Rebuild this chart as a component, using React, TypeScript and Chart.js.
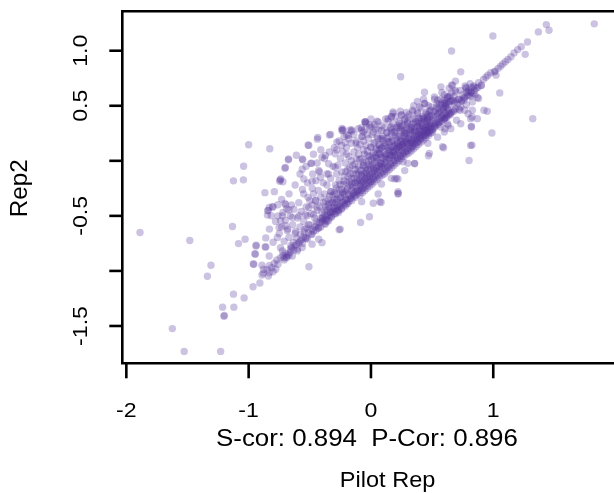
import { useEffect, useRef } from "react";
import { Chart, registerables } from "chart.js";

Chart.register(...registerables);

// ---- axis / text content ----
const xTickValues = [-2, -1, 0, 1];
const xTickLabels = ["-2", "-1", "0", "1"];
const yTickValues = [-1.5, -1, -0.5, 0, 0.5, 1];
const yTickLabels = ["-1.5", "", "-0.5", "", "0.5", "1.0"];
const xTitle = "Pilot Rep";
const yTitle = "Rep2";
const corrText = "S-cor: 0.894  P-Cor: 0.896";
const xRange = [-2.033, 1.957];
const yRange = [-1.839, 1.358];

// ---- data: [Pilot Rep, Rep2] ----
const leftTailPoints: [number, number][] = [
  [-1.888, -0.651], [-1.481, -0.724], [-1.624, -1.524], [-1.527, -1.731], [-1.229, -1.731],
  [-1.203, -1.412], [-1.198, -1.405], [-1.213, -1.329], [-1.121, -1.329], [-1.124, -1.211],
  [-1.037, -1.245], [-0.964, -1.144], [-0.908, -1.11], [-1.308, -0.949], [-1.337, -1.049],
  [-1.132, -0.597], [-1.083, -0.752], [-1.029, -0.712], [-0.938, -0.766], [-0.865, -0.782],
  [-0.948, -0.843], [-0.962, -0.937], [-0.891, -0.949], [-0.878, -0.985], [-0.891, -1.037],
  [-0.838, -1.047], [-0.8, -1.007], [-0.778, -0.985], [-1.0, 0.146], [-0.827, 0.109],
  [-1.041, -0.049], [-1.124, -0.182], [-1.043, -0.173], [-0.867, -0.289], [-0.958, -0.94],
  [-0.831, -1.016], [-0.946, -0.849], [-0.94, -0.773], [-0.859, -0.782], [-0.832, -0.864],
];

const upperLeftPoints: [number, number][] = [
  [-0.508, 0.14], [-0.438, 0.197], [-0.33, 0.24], [-0.232, 0.276], [-0.184, 0.231],
  [-0.157, 0.27], [-0.049, 0.352], [0.005, 0.307], [-0.279, 0.17], [-0.211, 0.167],
  [-0.122, 0.161], [-0.076, 0.222], [-0.676, 0.009], [-0.703, -0.067], [-0.557, 0.009],
  [-0.486, -0.022], [-0.562, -0.076], [-0.476, -0.119], [-0.427, -0.088], [-0.738, -0.164],
  [-0.746, -0.186], [-0.549, -0.164], [-0.481, -0.186], [-0.413, -0.149], [-0.4, 0.033],
  [-0.373, 0.048], [-0.292, 0.064], [-0.346, -0.027], [-0.292, -0.058], [-0.346, -0.119],
  [-0.044, 0.355], [-0.228, 0.286], [-0.171, 0.28], [-0.34, 0.234], [-0.435, 0.213],
  [-0.514, 0.144], [-0.673, 0.016], [-0.562, 0.016], [-0.492, -0.023], [-0.743, -0.174],
  [-0.157, 0.28], [-0.198, 0.234], [-0.238, 0.295], [-0.076, 0.28], [-0.008, 0.325],
  [0.167, 0.401], [0.181, 0.431], [0.343, 0.446], [0.275, 0.371], [0.235, 0.341],
];

const lowerLeftPoints: [number, number][] = [
  [-0.832, -0.423], [-0.805, -0.417], [-0.846, -0.493], [-0.697, -0.399], [-0.67, -0.447],
  [-0.724, -0.499], [-0.738, -0.545], [-0.643, -0.514], [-0.589, -0.499], [-0.535, -0.49],
  [-0.508, -0.423], [-0.441, -0.423], [-0.454, -0.362], [-0.514, -0.332], [-0.4, -0.529],
  [-0.319, -0.453], [-0.265, -0.469], [-0.251, -0.62], [-0.697, -0.59], [-0.684, -0.636],
  [-0.751, -0.606], [-0.67, -0.697], [-0.616, -0.642], [-0.765, -0.697], [-0.589, -0.743],
  [-0.535, -0.703], [-0.481, -0.666], [-0.427, -0.611], [-0.373, -0.575], [-0.346, -0.545],
  [-0.562, -0.788], [-0.656, -0.803], [-0.711, -0.88], [-0.724, -0.818], [-0.643, -0.864],
  [-0.602, -0.818], [-0.481, -0.757], [-0.427, -0.712], [-0.4, -0.743], [-0.844, -0.453],
  [-0.815, -0.499], [-0.761, -0.399], [-0.704, -0.387], [-0.688, -0.438], [-0.507, -0.962],
  [-0.26, -0.627], [-0.085, -0.56], [-0.012, -0.508], [0.083, -0.378], [0.223, -0.296],
  [0.019, -0.386], [0.073, -0.371], [-0.076, -0.371], [0.167, -0.159], [0.208, -0.159],
  [0.221, -0.28], [0.357, -0.023], [0.302, -0.023], [0.262, -0.008], [0.478, 0.068],
  [0.465, 0.159], [0.221, -0.164], [0.194, -0.164], [0.059, -0.301], [0.221, -0.301],
];

const bandNegPoints: [number, number][] = [
  [-0.88, -1.02], [-0.85, -0.99], [-0.83, -0.95], [-0.81, -0.97], [-0.79, -0.93], [-0.77, -0.9],
  [-0.76, -0.94], [-0.74, -0.88], [-0.72, -0.86], [-0.71, -0.9], [-0.7, -0.84], [-0.69, -0.87],
  [-0.68, -0.85], [-0.69, -0.88], [-0.67, -0.86], [-0.86, -0.7], [-0.83, -0.62], [-0.8, -0.74],
  [-0.78, -0.55], [-0.75, -0.66], [-0.73, -0.6], [-0.72, -0.47], [-0.71, -0.73], [-0.84, -0.45],
  [-0.8, -0.42], [-0.76, -0.5], [-0.74, -0.79], [-0.7, -0.54], [-0.73, -0.35], [-0.79, -0.28],
  [-0.72, -0.19], [-0.7, -0.06],
  [-0.66, -0.83], [-0.65, -0.79], [-0.63, -0.81], [-0.62, -0.77], [-0.61, -0.76], [-0.6, -0.8],
  [-0.58, -0.73], [-0.57, -0.72], [-0.56, -0.75], [-0.55, -0.69], [-0.53, -0.7], [-0.52, -0.71],
  [-0.51, -0.65], [-0.68, -0.62], [-0.66, -0.5], [-0.64, -0.58], [-0.63, -0.44], [-0.62, -0.66],
  [-0.6, -0.52], [-0.59, -0.38], [-0.58, -0.6], [-0.57, -0.46], [-0.55, -0.55], [-0.55, -0.3],
  [-0.54, -0.62], [-0.53, -0.42], [-0.52, -0.5], [-0.51, -0.58], [-0.5, -0.36], [-0.67, -0.3],
  [-0.62, -0.22], [-0.58, -0.12], [-0.53, -0.05], [-0.61, 0.05], [-0.52, -0.2], [-0.65, -0.4],
  [-0.56, -0.26],
  [-0.49, -0.67], [-0.48, -0.62], [-0.47, -0.64], [-0.46, -0.6], [-0.45, -0.63], [-0.44, -0.58],
  [-0.43, -0.61], [-0.42, -0.56], [-0.41, -0.6], [-0.4, -0.55], [-0.39, -0.54], [-0.38, -0.57],
  [-0.37, -0.51], [-0.36, -0.55], [-0.35, -0.5], [-0.34, -0.52], [-0.33, -0.47], [-0.32, -0.5],
  [-0.31, -0.46], [-0.49, -0.48], [-0.48, -0.4], [-0.47, -0.3], [-0.46, -0.52], [-0.45, -0.36],
  [-0.44, -0.45], [-0.43, -0.27], [-0.42, -0.41], [-0.41, -0.33], [-0.4, -0.47], [-0.39, -0.38],
  [-0.38, -0.3], [-0.37, -0.42], [-0.36, -0.22], [-0.35, -0.35], [-0.34, -0.43], [-0.33, -0.28],
  [-0.32, -0.38], [-0.31, -0.31], [-0.3, -0.42], [-0.48, -0.25], [-0.45, -0.18], [-0.42, -0.1],
  [-0.39, -0.2], [-0.36, -0.12], [-0.33, -0.16], [-0.31, -0.05], [-0.44, -0.02], [-0.38, 0.02],
  [-0.34, 0.08], [-0.47, 0.06], [-0.3, 0.12], [-0.41, 0.1],
  [-0.3, -0.48], [-0.29, -0.44], [-0.28, -0.46], [-0.27, -0.42], [-0.26, -0.45], [-0.25, -0.41],
  [-0.24, -0.43], [-0.23, -0.38], [-0.22, -0.4], [-0.21, -0.36], [-0.2, -0.39], [-0.19, -0.35],
  [-0.18, -0.37], [-0.17, -0.32], [-0.16, -0.34], [-0.15, -0.3], [-0.14, -0.32], [-0.13, -0.28],
  [-0.12, -0.31], [-0.11, -0.27], [-0.29, -0.38], [-0.27, -0.35], [-0.25, -0.33], [-0.23, -0.3],
  [-0.21, -0.28], [-0.19, -0.25], [-0.17, -0.22], [-0.15, -0.24], [-0.13, -0.2], [-0.11, -0.18],
  [-0.28, -0.3], [-0.24, -0.26], [-0.2, -0.2], [-0.16, -0.16], [-0.12, -0.12], [-0.29, -0.22],
  [-0.28, -0.12], [-0.27, -0.04], [-0.26, -0.18], [-0.25, 0.02], [-0.24, -0.1], [-0.23, 0.08],
  [-0.22, -0.14], [-0.21, -0.02], [-0.2, 0.12], [-0.19, -0.08], [-0.18, 0.04], [-0.17, -0.12],
  [-0.16, 0.16], [-0.15, -0.04], [-0.14, 0.08], [-0.13, -0.08], [-0.12, 0.02], [-0.11, 0.12],
  [-0.1, -0.05], [-0.26, 0.18], [-0.22, 0.22], [-0.18, 0.2], [-0.14, 0.24], [-0.12, 0.18],
  [-0.28, 0.1], [-0.2, 0.06], [-0.16, 0.0], [-0.24, 0.14],
];

const bandCorePoints: [number, number][] = [
  [-0.1, -0.29], [-0.09, -0.31], [-0.08, -0.27], [-0.07, -0.29], [-0.06, -0.25], [-0.05, -0.27],
  [-0.04, -0.23], [-0.03, -0.25], [-0.02, -0.21], [-0.01, -0.23], [0.0, -0.19], [0.01, -0.21],
  [0.02, -0.17], [0.03, -0.19], [0.04, -0.15], [0.05, -0.17], [0.06, -0.13], [0.07, -0.15],
  [0.08, -0.11], [0.09, -0.13], [-0.09, -0.22], [-0.07, -0.19], [-0.05, -0.17], [-0.03, -0.15],
  [-0.01, -0.13], [0.01, -0.11], [0.03, -0.09], [0.05, -0.07], [0.07, -0.05], [0.09, -0.03],
  [-0.08, -0.13], [-0.04, -0.09], [0.0, -0.05], [0.04, -0.01], [0.08, 0.03], [-0.06, -0.04],
  [-0.02, 0.0], [0.02, 0.03], [0.06, 0.07], [-0.1, 0.06], [-0.09, 0.15], [-0.08, 0.02],
  [-0.07, 0.22], [-0.06, 0.1], [-0.05, 0.28], [-0.04, 0.14], [-0.03, 0.05], [-0.02, 0.2],
  [-0.01, 0.3], [0.0, 0.12], [0.01, 0.24], [0.02, 0.16], [0.03, 0.33], [0.04, 0.1],
  [0.05, 0.22], [0.06, 0.28], [0.07, 0.14], [0.08, 0.2], [0.09, 0.32], [-0.08, 0.3],
  [-0.04, 0.34], [0.0, 0.38], [0.05, 0.36], [-0.06, 0.18], [0.02, 0.26], [0.07, 0.06],
  [-0.03, 0.24], [0.04, 0.29], [0.09, 0.12],
  [0.1, -0.1], [0.11, -0.12], [0.12, -0.08], [0.13, -0.1], [0.14, -0.06], [0.15, -0.08],
  [0.16, -0.04], [0.17, -0.06], [0.18, -0.02], [0.19, -0.04], [0.2, 0.0], [0.21, -0.02],
  [0.22, 0.02], [0.23, 0.0], [0.24, 0.04], [0.25, 0.02], [0.26, 0.06], [0.27, 0.04],
  [0.28, 0.08], [0.29, 0.06], [0.11, -0.02], [0.13, 0.01], [0.15, 0.03], [0.17, 0.05],
  [0.19, 0.08], [0.21, 0.1], [0.23, 0.12], [0.25, 0.14], [0.27, 0.16], [0.29, 0.18],
  [0.12, 0.06], [0.16, 0.1], [0.2, 0.14], [0.24, 0.18], [0.28, 0.22], [0.1, 0.2],
  [0.11, 0.3], [0.12, 0.16], [0.13, 0.26], [0.14, 0.36], [0.15, 0.22], [0.16, 0.3],
  [0.17, 0.18], [0.18, 0.34], [0.19, 0.26], [0.2, 0.4], [0.21, 0.3], [0.22, 0.22],
  [0.23, 0.36], [0.24, 0.28], [0.25, 0.42], [0.26, 0.32], [0.27, 0.26], [0.28, 0.38],
  [0.29, 0.3], [0.14, 0.12], [0.18, 0.08], [0.22, 0.13], [0.26, 0.16], [0.12, 0.38],
  [0.17, 0.4], [0.24, 0.45], [0.29, 0.44],
];

const coreDensePoints: [number, number][] = [
  [-0.395, -0.512], [-0.382, -0.447], [-0.371, -0.368], [-0.366, -0.535], [-0.354, -0.489],
  [-0.348, -0.402], [-0.337, -0.318], [-0.331, -0.466], [-0.322, -0.511], [-0.314, -0.377],
  [-0.306, -0.433], [-0.297, -0.289], [-0.291, -0.482], [-0.283, -0.351], [-0.276, -0.412],
  [-0.268, -0.447], [-0.261, -0.266], [-0.254, -0.392], [-0.247, -0.331], [-0.239, -0.438],
  [-0.232, -0.372], [-0.226, -0.215], [-0.218, -0.307], [-0.211, -0.412], [-0.204, -0.351],
  [-0.197, -0.262], [-0.189, -0.389], [-0.183, -0.305], [-0.176, -0.187], [-0.169, -0.342],
  [-0.162, -0.271], [-0.155, -0.361], [-0.148, -0.224], [-0.141, -0.297], [-0.134, -0.158],
  [-0.127, -0.332], [-0.121, -0.243], [-0.114, -0.281], [-0.107, -0.196], [-0.101, -0.117],
  [-0.096, -0.263], [-0.091, -0.175], [-0.087, -0.232], [-0.082, -0.087], [-0.078, -0.201],
  [-0.073, -0.146], [-0.069, -0.248], [-0.064, -0.041], [-0.059, -0.183], [-0.055, -0.112],
  [-0.051, -0.215], [-0.046, -0.066], [-0.042, -0.157], [-0.037, -0.009], [-0.033, -0.194],
  [-0.029, -0.123], [-0.024, -0.078], [-0.019, -0.171], [-0.015, 0.038], [-0.011, -0.142],
  [-0.006, -0.062], [-0.002, -0.188], [0.003, 0.011], [0.007, -0.119], [0.012, -0.035],
  [0.016, -0.154], [0.021, 0.072], [0.025, -0.092], [0.029, -0.014], [0.034, -0.131],
  [0.038, 0.045], [0.043, -0.066], [0.047, 0.108], [0.052, -0.103], [0.056, 0.009],
  [0.061, -0.047], [0.065, 0.151], [0.069, -0.082], [0.074, 0.063], [0.078, -0.018],
  [0.083, 0.118], [0.087, -0.059], [0.092, 0.027], [0.096, 0.186],
  [0.101, -0.041], [0.106, 0.082], [0.111, -0.073], [0.115, 0.024], [0.12, 0.139],
  [0.124, -0.012], [0.129, 0.061], [0.133, 0.203], [0.138, -0.048], [0.142, 0.097],
  [0.147, 0.016], [0.151, 0.168], [0.156, 0.052], [0.16, -0.021], [0.165, 0.121],
  [0.169, 0.248], [0.174, 0.034], [0.178, 0.182], [0.183, 0.077], [0.187, 0.006],
  [0.192, 0.139], [0.196, 0.264], [0.201, 0.054], [0.205, 0.199], [0.21, 0.109],
  [0.214, 0.027], [0.219, 0.161], [0.223, 0.298], [0.228, 0.072], [0.232, 0.218],
  [0.237, 0.131], [0.241, 0.049], [0.246, 0.177], [0.25, 0.096], [0.255, 0.271],
  [0.259, 0.146], [0.264, 0.068], [0.268, 0.224], [0.273, 0.119], [0.277, 0.327],
  [0.282, 0.188], [0.286, 0.092], [0.291, 0.251], [0.295, 0.153],
  [0.302, 0.114], [0.307, 0.208], [0.311, 0.284], [0.316, 0.137], [0.321, 0.239],
  [0.325, 0.172], [0.33, 0.331], [0.334, 0.126], [0.339, 0.262], [0.343, 0.197],
  [0.348, 0.158], [0.352, 0.297], [0.357, 0.229], [0.361, 0.181], [0.366, 0.352],
  [0.37, 0.264], [0.375, 0.207], [0.379, 0.168], [0.384, 0.311], [0.388, 0.243],
  [0.393, 0.386], [0.397, 0.219], [0.402, 0.287], [0.406, 0.203], [0.411, 0.341],
  [0.415, 0.262], [0.42, 0.231], [0.424, 0.402], [0.429, 0.306], [0.433, 0.249],
  [0.438, 0.368], [0.442, 0.281], [0.447, 0.232], [0.451, 0.427], [0.456, 0.327],
  [0.46, 0.268], [0.465, 0.384], [0.469, 0.302], [0.474, 0.256], [0.478, 0.451],
  [0.483, 0.348], [0.487, 0.291], [0.492, 0.412], [0.496, 0.317],
  [0.503, 0.287], [0.508, 0.372], [0.514, 0.449], [0.519, 0.312], [0.525, 0.398],
  [0.531, 0.338], [0.536, 0.487], [0.542, 0.361], [0.547, 0.421], [0.553, 0.347],
  [0.558, 0.512], [0.564, 0.384], [0.569, 0.446], [0.575, 0.368], [0.58, 0.531],
  [0.586, 0.412], [0.591, 0.469], [0.597, 0.392], [0.602, 0.553], [0.608, 0.437],
  [0.613, 0.489], [0.619, 0.413], [0.624, 0.571], [0.63, 0.458], [0.635, 0.512],
  [0.641, 0.434], [0.646, 0.589],
];

const coreFillPoints: [number, number][] = [
  [-0.187, -0.142], [-0.173, -0.061], [-0.158, -0.203], [-0.144, -0.117], [-0.131, -0.029],
  [-0.118, -0.176], [-0.104, -0.081], [-0.093, 0.013], [-0.079, -0.128], [-0.066, -0.011],
  [-0.053, 0.061], [-0.041, -0.104], [-0.028, 0.089], [-0.016, -0.037], [-0.004, 0.127],
  [0.009, 0.049], [0.018, -0.072], [0.031, 0.167], [0.044, 0.031], [0.057, 0.203],
  [0.068, 0.098], [0.081, -0.027], [0.094, 0.224], [0.107, 0.131], [0.118, 0.042],
  [0.131, 0.254], [0.143, 0.173], [0.154, 0.088], [0.167, 0.281], [0.179, 0.129],
  [0.191, 0.046], [0.203, 0.232], [0.216, 0.158], [0.227, 0.094], [0.239, 0.309],
  [0.252, 0.204], [0.263, 0.126], [0.276, 0.247], [0.288, 0.169], [0.299, 0.356],
  [0.312, 0.198], [0.323, 0.274], [0.336, 0.163], [0.347, 0.341], [0.359, 0.268],
  [0.371, 0.198], [0.383, 0.357], [0.396, 0.271], [0.408, 0.229], [0.419, 0.318],
  [0.432, 0.387], [0.444, 0.298], [0.457, 0.254], [0.468, 0.421], [0.481, 0.311],
  [-0.232, -0.286], [-0.219, -0.183], [-0.206, -0.097], [-0.253, -0.214], [-0.281, -0.246],
  [-0.302, -0.351], [-0.326, -0.279], [-0.341, -0.384], [-0.359, -0.446], [-0.377, -0.492],
  [-0.412, -0.524], [-0.446, -0.553], [-0.468, -0.488], [-0.497, -0.583], [-0.523, -0.611],
  [-0.545, -0.648], [-0.577, -0.668], [-0.608, -0.702], [-0.634, -0.741], [-0.656, -0.772],
];

const bandUpperPoints: [number, number][] = [
  [0.3, 0.09], [0.31, 0.07], [0.32, 0.11], [0.33, 0.09], [0.34, 0.13], [0.35, 0.11],
  [0.36, 0.15], [0.37, 0.13], [0.38, 0.17], [0.39, 0.15], [0.4, 0.19], [0.41, 0.17],
  [0.42, 0.21], [0.43, 0.19], [0.44, 0.23], [0.45, 0.21], [0.46, 0.25], [0.47, 0.23],
  [0.48, 0.27], [0.49, 0.25], [0.31, 0.16], [0.33, 0.18], [0.35, 0.2], [0.37, 0.22],
  [0.39, 0.24], [0.41, 0.26], [0.43, 0.28], [0.45, 0.3], [0.47, 0.32], [0.49, 0.34],
  [0.32, 0.24], [0.36, 0.28], [0.4, 0.32], [0.44, 0.36], [0.48, 0.4], [0.3, 0.34],
  [0.31, 0.42], [0.33, 0.3], [0.34, 0.46], [0.36, 0.38], [0.38, 0.44], [0.39, 0.34],
  [0.41, 0.48], [0.42, 0.38], [0.44, 0.52], [0.45, 0.44], [0.46, 0.36], [0.47, 0.5],
  [0.49, 0.46], [0.35, 0.5], [0.43, 0.56], [0.38, 0.54],
  [0.5, 0.28], [0.52, 0.3], [0.53, 0.32], [0.55, 0.33], [0.56, 0.35], [0.58, 0.36],
  [0.6, 0.38], [0.61, 0.39], [0.63, 0.41], [0.65, 0.42], [0.66, 0.44], [0.68, 0.45],
  [0.69, 0.47], [0.51, 0.4], [0.53, 0.46], [0.54, 0.52], [0.56, 0.44], [0.57, 0.56],
  [0.59, 0.48], [0.6, 0.6], [0.62, 0.52], [0.63, 0.58], [0.65, 0.54], [0.66, 0.62],
  [0.68, 0.58], [0.69, 0.64], [0.52, 0.56], [0.58, 0.62], [0.64, 0.66], [0.55, 0.48],
  [0.61, 0.5], [0.67, 0.55],
  [0.71, 0.52], [0.72, 0.56], [0.74, 0.54], [0.75, 0.6], [0.76, 0.57], [0.78, 0.62],
  [0.79, 0.59], [0.8, 0.64], [0.82, 0.62], [0.84, 0.68], [0.86, 0.66], [0.88, 0.71],
  [0.73, 0.64], [0.77, 0.68], [0.81, 0.7], [0.72, 0.47], [0.78, 0.51], [0.85, 0.6],
  [0.438, 0.623], [0.572, 0.672], [0.667, 0.687], [0.694, 0.626], [0.775, 0.666],
  [0.815, 0.626], [0.843, 0.672], [0.902, 0.687], [0.802, 0.596], [0.87, 0.575],
  [0.829, 0.535], [0.762, 0.55], [0.734, 0.489], [0.681, 0.52], [0.626, 0.58],
  [0.6, 0.52], [0.545, 0.55], [0.519, 0.58], [0.491, 0.489], [0.438, 0.52],
  [0.397, 0.489], [0.383, 0.429], [0.464, 0.398], [0.545, 0.429], [0.6, 0.383],
  [0.626, 0.337], [0.572, 0.307], [0.519, 0.337], [0.464, 0.368], [0.41, 0.383],
  [0.343, 0.383], [0.302, 0.398], [0.248, 0.413], [0.181, 0.443], [0.14, 0.383],
  [0.059, 0.352], [-0.049, 0.352], [-0.103, 0.292], [-0.238, 0.276], [-0.062, 0.261],
  [0.086, 0.276], [0.167, 0.307], [0.221, 0.322], [0.276, 0.276], [0.329, 0.307],
  [0.383, 0.322], [0.451, 0.276], [0.505, 0.261], [0.545, 0.215], [0.6, 0.261],
  [0.653, 0.292], [0.734, 0.337], [0.815, 0.383], [0.829, 0.459], [0.924, 0.459],
  [0.821, 0.307], [0.815, 0.14], [0.802, 0.003], [0.594, 0.119], [0.47, 0.046],
  [0.357, -0.027], [0.276, -0.089], [0.086, -0.21], [0.585, 0.128],
];

const rightTailPoints: [number, number][] = [
  [1.826, 1.244], [1.434, 1.237], [1.456, 1.186], [1.369, 1.171], [0.997, 1.134],
  [1.28, 1.079], [1.229, 1.037], [1.261, 0.967], [0.659, 0.997], [1.145, 0.945],
  [1.099, 0.9], [1.078, 0.879], [1.01, 0.808], [1.015, 0.815], [0.956, 0.778],
  [1.023, 0.778], [0.734, 0.808], [1.053, 0.617], [0.902, 0.684], [0.875, 0.666],
  [0.848, 0.641], [0.691, 0.724], [0.659, 0.687], [0.88, 0.566], [0.951, 0.45],
  [1.323, 0.383], [0.87, 0.383], [0.821, 0.313], [0.989, 0.252], [0.767, 0.459],
  [0.243, 0.763], [0.821, 0.666], [0.781, 0.657], [0.794, 0.627], [0.834, 0.611],
  [0.816, 0.587], [0.767, 0.575], [0.74, 0.551], [0.713, 0.557], [0.686, 0.535],
  [0.659, 0.551], [0.632, 0.535], [0.605, 0.52], [0.578, 0.505], [0.827, 0.398],
  [0.794, 0.428], [0.727, 0.459], [0.7, 0.368], [0.632, 0.322], [0.619, 0.398],
  [0.591, 0.459], [0.578, 0.398], [0.605, 0.292], [0.673, 0.459], [0.646, 0.428],
  [0.627, 0.474], [0.826, 0.143], [0.92, 0.74], [0.94, 0.76], [0.98, 0.8],
  [1.04, 0.84], [1.06, 0.86], [1.12, 0.92], [1.17, 0.98], [1.2, 1.01],
];

const allPoints = [
  ...leftTailPoints,
  ...upperLeftPoints,
  ...lowerLeftPoints,
  ...bandNegPoints,
  ...bandCorePoints,
  ...coreDensePoints,
  ...coreFillPoints,
  ...bandUpperPoints,
  ...rightTailPoints,
];

const FONT = '"Liberation Sans", Arial, Helvetica, sans-serif';

function drawText(
  ctx: CanvasRenderingContext2D,
  text: string,
  x: number,
  y: number,
  size: number,
  stretch: number,
  rotate = 0
) {
  ctx.save();
  ctx.translate(x, y);
  if (rotate) ctx.rotate(rotate);
  ctx.scale(stretch, 1);
  ctx.font = `${size}px ${FONT}`;
  ctx.fillStyle = "#000";
  ctx.textAlign = "center";
  ctx.textBaseline = "alphabetic";
  ctx.fillText(text, 0, 0);
  ctx.restore();
}

const baseAxesPlugin = {
  id: "baseAxes",
  afterDraw(chart: any) {
    const { ctx, chartArea, scales } = chart;
    const { left, top, bottom } = chartArea;
    const xs = scales.x;
    const ys = scales.y;
    ctx.save();
    ctx.strokeStyle = "#000";
    ctx.lineWidth = 2.6;
    ctx.lineCap = "butt";
    ctx.beginPath();
    ctx.moveTo(chart.width + 4, top);
    ctx.lineTo(left, top);
    ctx.lineTo(left, bottom);
    ctx.lineTo(chart.width + 4, bottom);
    ctx.stroke();
    xTickValues.forEach((v, i) => {
      const px = xs.getPixelForValue(v);
      ctx.beginPath();
      ctx.moveTo(px, bottom);
      ctx.lineTo(px, bottom + 15);
      ctx.stroke();
      drawText(ctx, xTickLabels[i], px, bottom + 54, 21, 1.1);
    });
    yTickValues.forEach((v, i) => {
      const py = ys.getPixelForValue(v);
      ctx.beginPath();
      ctx.moveTo(left, py);
      ctx.lineTo(left - 13, py);
      ctx.stroke();
      if (yTickLabels[i]) drawText(ctx, yTickLabels[i], left - 35, py, 21, 1.1, -Math.PI / 2);
    });
    ctx.restore();
    drawText(ctx, corrText, xs.getPixelForValue(0) - 4, bottom + 83, 23.3, 1.11);
    drawText(ctx, xTitle, xs.getPixelForValue(0.136), bottom + 123.5, 21.2, 1.11);
    drawText(ctx, yTitle, left - 95.8, (top + bottom) / 2 + 1, 23, 1.05, -Math.PI / 2);
  },
};

export default function App() {
  const canvasRef = useRef<HTMLCanvasElement | null>(null);

  useEffect(() => {
    document.body.style.margin = "0";
    const canvas = canvasRef.current;
    if (!canvas) return;
    const chart = new Chart(canvas, {
      type: "scatter",
      data: {
        datasets: [
          {
            label: "Rep2 vs Pilot Rep",
            data: allPoints.map(([x, y]) => ({ x, y })),
            backgroundColor: "rgba(86, 52, 156, 0.3)",
            borderWidth: 0,
            pointRadius: 3.7,
            pointHoverRadius: 3.7,
          },
        ],
      },
      options: {
        responsive: false,
        animation: false,
        layout: { padding: { left: 122.3, top: 11.3, right: 0, bottom: 129.7 } },
        scales: {
          x: { type: "linear", min: xRange[0], max: xRange[1], display: false },
          y: { type: "linear", min: yRange[0], max: yRange[1], display: false },
        },
        plugins: { legend: { display: false }, tooltip: { enabled: false } },
      },
      plugins: [baseAxesPlugin],
    });
    return () => chart.destroy();
  }, []);

  return (
    <div style={{ width: 614, height: 493, background: "#fff" }}>
      <canvas ref={canvasRef} width={614} height={493} style={{ display: "block" }} />
    </div>
  );
}
